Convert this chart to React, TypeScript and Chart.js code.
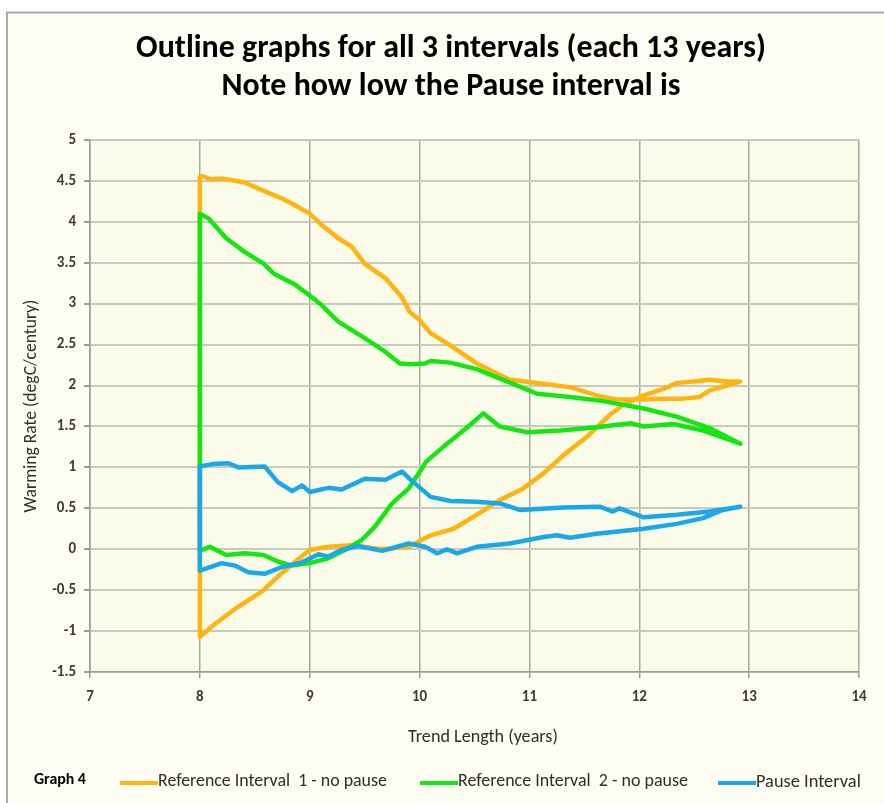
import React, { useEffect, useRef } from "react";
import { Chart, registerables } from "chart.js";

Chart.register(...registerables);

// ---------- DATA ----------
const seriesNames = [
  "Reference Interval  1 - no pause",
  "Reference Interval  2 - no pause",
  "Pause Interval",
];
const seriesColors = ["#FFB412", "#14E614", "#1AA8E8"];

// Reference interval 1 (orange): descending branch
const ref1TopX = [8.0, 8.02, 8.1, 8.2, 8.41, 8.56, 8.74, 8.87, 9.0, 9.11, 9.26, 9.38, 9.5, 9.69, 9.84, 9.91, 10.0, 10.1, 10.28, 10.52, 10.82, 11.07, 11.37, 11.61, 11.79, 12.0, 12.2, 12.4, 12.55, 12.64, 12.8, 12.92];
const ref1TopY = [4.55, 4.56, 4.52, 4.53, 4.48, 4.39, 4.29, 4.2, 4.1, 3.96, 3.8, 3.7, 3.49, 3.31, 3.08, 2.9, 2.8, 2.64, 2.49, 2.27, 2.07, 2.03, 1.98, 1.88, 1.83, 1.83, 1.84, 1.84, 1.86, 1.94, 2.0, 2.05];
// Reference interval 1 (orange): rising branch
const ref1BotX = [8.0, 8.14, 8.32, 8.56, 8.74, 8.87, 9.0, 9.17, 9.38, 9.66, 9.9, 10.1, 10.31, 10.52, 10.73, 10.94, 11.13, 11.31, 11.52, 11.73, 11.85, 12.04, 12.22, 12.34, 12.5, 12.64, 12.8, 12.92];
const ref1BotY = [-1.07, -0.91, -0.73, -0.52, -0.3, -0.15, -0.01, 0.03, 0.05, 0.0, 0.03, 0.17, 0.25, 0.42, 0.6, 0.74, 0.93, 1.15, 1.37, 1.64, 1.76, 1.88, 1.96, 2.03, 2.05, 2.07, 2.05, 2.05];

// Reference interval 2 (green): descending branch
const ref2TopX = [8.0, 8.08, 8.24, 8.41, 8.58, 8.67, 8.87, 9.0, 9.11, 9.26, 9.38, 9.5, 9.69, 9.82, 9.91, 10.05, 10.1, 10.28, 10.52, 10.76, 11.07, 11.37, 11.67, 12.04, 12.34, 12.64, 12.92];
const ref2TopY = [4.1, 4.04, 3.8, 3.63, 3.49, 3.37, 3.23, 3.1, 2.98, 2.78, 2.68, 2.58, 2.41, 2.27, 2.26, 2.27, 2.3, 2.28, 2.2, 2.07, 1.9, 1.86, 1.81, 1.72, 1.62, 1.48, 1.29];
// Reference interval 2 (green): rising branch
const ref2BotX = [8.0, 8.09, 8.24, 8.41, 8.58, 8.71, 8.84, 9.0, 9.17, 9.32, 9.47, 9.59, 9.75, 9.9, 10.06, 10.25, 10.4, 10.58, 10.73, 10.98, 11.28, 11.61, 11.92, 12.04, 12.31, 12.58, 12.92];
const ref2BotY = [-0.02, 0.03, -0.07, -0.05, -0.07, -0.15, -0.2, -0.17, -0.11, -0.01, 0.11, 0.27, 0.56, 0.74, 1.07, 1.29, 1.45, 1.66, 1.5, 1.43, 1.45, 1.49, 1.54, 1.5, 1.53, 1.45, 1.29];

// Pause interval (blue): upper branch
const pauseTopX = [8.0, 8.11, 8.26, 8.35, 8.59, 8.71, 8.84, 8.93, 9.0, 9.17, 9.29, 9.5, 9.69, 9.84, 9.91, 10.1, 10.28, 10.52, 10.73, 10.91, 11.31, 11.64, 11.76, 11.82, 12.04, 12.34, 12.64, 12.92];
const pauseTopY = [1.01, 1.04, 1.05, 1.0, 1.01, 0.82, 0.71, 0.78, 0.7, 0.75, 0.73, 0.86, 0.85, 0.95, 0.86, 0.64, 0.59, 0.58, 0.56, 0.48, 0.51, 0.52, 0.46, 0.5, 0.39, 0.42, 0.46, 0.52];
// Pause interval (blue): lower branch
const pauseBotX = [8.0, 8.2, 8.32, 8.44, 8.59, 8.74, 8.93, 9.08, 9.17, 9.29, 9.44, 9.66, 9.9, 10.05, 10.16, 10.25, 10.34, 10.52, 10.82, 11.13, 11.25, 11.37, 11.61, 12.04, 12.34, 12.58, 12.76, 12.92];
const pauseBotY = [-0.26, -0.17, -0.2, -0.28, -0.3, -0.22, -0.16, -0.06, -0.09, -0.01, 0.04, -0.02, 0.07, 0.03, -0.05, 0.0, -0.05, 0.03, 0.07, 0.15, 0.17, 0.14, 0.19, 0.25, 0.31, 0.38, 0.48, 0.52];

const titleLines = [
  "Outline graphs for all 3 intervals (each 13 years)",
  "Note how low the Pause interval is",
];
const yAxisTitle = "Warming Rate (degC/century)";
const xAxisTitle = "Trend Length (years)";
const legendCaption = "Graph 4";
const xMin = 7, xMax = 14, xStep = 1;
const yMin = -1.5, yMax = 5, yStep = 0.5;

// ---------- helpers ----------
const FAMILY = "Carlito, Lato, 'Liberation Sans', sans-serif";

function loop(topX: number[], topY: number[], botX: number[], botY: number[]) {
  const pts: { x: number; y: number }[] = [];
  for (let i = 0; i < topX.length; i++) pts.push({ x: topX[i], y: topY[i] });
  for (let i = botX.length - 1; i >= 0; i--) pts.push({ x: botX[i], y: botY[i] });
  pts.push({ x: topX[0], y: topY[0] });
  return pts;
}

function fitFont(ctx: CanvasRenderingContext2D, text: string, weight: string, targetW: number) {
  ctx.font = `${weight} 20px ${FAMILY}`;
  const w = ctx.measureText(text).width;
  const size = (20 * targetW) / w;
  ctx.font = `${weight} ${size}px ${FAMILY}`;
  return size;
}

const decorPlugin = {
  id: "decor",
  beforeDraw(chart: any) {
    const { ctx, chartArea: a, width, height } = chart;
    ctx.save();
    ctx.fillStyle = "#FFFFFF";
    ctx.fillRect(0, 0, width, height);
    ctx.fillStyle = "#FDFDF3";
    ctx.fillRect(7, 12, width - 7, height - 12);
    ctx.strokeStyle = "#A9A9A9";
    ctx.lineWidth = 2;
    ctx.beginPath();
    ctx.moveTo(7, height);
    ctx.lineTo(7, 12.5);
    ctx.lineTo(width, 12.5);
    ctx.stroke();
    ctx.fillStyle = "#FBFBE9";
    ctx.fillRect(a.left, a.top, a.right - a.left, a.bottom - a.top);
    ctx.restore();
  },
  afterDraw(chart: any) {
    const { ctx } = chart;
    ctx.save();
    // Title
    ctx.fillStyle = "#000000";
    ctx.textAlign = "center";
    ctx.textBaseline = "alphabetic";
    fitFont(ctx, titleLines[0], "bold", 630);
    ctx.fillText(titleLines[0], 451, 57);
    fitFont(ctx, titleLines[1], "bold", 459);
    ctx.fillText(titleLines[1], 451, 95);

    // Axis titles
    ctx.fillStyle = "#2E2E2E";
    ctx.textBaseline = "middle";
    ctx.save();
    ctx.translate(32, 406);
    ctx.rotate(-Math.PI / 2);
    fitFont(ctx, yAxisTitle, "normal", 213);
    ctx.fillText(yAxisTitle, 0, 0);
    ctx.restore();
    fitFont(ctx, xAxisTitle, "normal", 150);
    ctx.fillText(xAxisTitle, 483, 737);

    // Legend
    const ly = 782;
    ctx.textAlign = "left";
    ctx.fillStyle = "#000000";
    fitFont(ctx, legendCaption, "bold", 52);
    ctx.fillText(legendCaption, 34, ly - 2);
    const lineX = [120, 420, 718];
    const textW = [229, 230, 105];
    ctx.lineWidth = 4;
    for (let i = 0; i < 3; i++) {
      ctx.strokeStyle = seriesColors[i];
      ctx.beginPath();
      ctx.moveTo(lineX[i], ly + 1);
      ctx.lineTo(lineX[i] + 38, ly + 1);
      ctx.stroke();
      ctx.fillStyle = "#2E2E2E";
      fitFont(ctx, seriesNames[i], "normal", textW[i]);
      ctx.fillText(seriesNames[i], lineX[i] + 38, ly);
    }
    ctx.restore();
  },
};

export default function App() {
  const ref = useRef<HTMLCanvasElement | null>(null);
  useEffect(() => {
    if (!ref.current) return;
    const loops = [
      loop(ref1TopX, ref1TopY, ref1BotX, ref1BotY),
      loop(ref2TopX, ref2TopY, ref2BotX, ref2BotY),
      loop(pauseTopX, pauseTopY, pauseBotX, pauseBotY),
    ];
    const chart = new Chart(ref.current, {
      type: "scatter",
      data: {
        datasets: loops.map((pts, i) => ({
          label: seriesNames[i],
          data: pts,
          showLine: true,
          borderColor: seriesColors[i],
          backgroundColor: seriesColors[i],
          borderWidth: 4.5,
          pointRadius: 0,
          pointHoverRadius: 0,
          tension: 0,
          borderJoinStyle: "round" as const,
          borderCapStyle: "round" as const,
          order: 3 - i,
        })),
      },
      options: {
        animation: false,
        responsive: false,
        layout: { padding: { left: 0, top: 140, right: 25, bottom: 0 } },
        plugins: {
          legend: { display: false },
          title: { display: false },
          tooltip: { enabled: false },
        },
        scales: {
          x: {
            type: "linear",
            min: xMin,
            max: xMax,
            ticks: {
              stepSize: xStep,
              padding: 10,
              color: "#3A3A3A",
              font: { family: FAMILY, size: 15, weight: "bold" },
            },
            grid: { color: "#A8A8A2", lineWidth: 1.5, tickLength: 6, tickColor: "#9A9A9A" },
            border: { color: "#9C9C9C", width: 1.5 },
            afterFit: (s: any) => { s.height = 131; },
          },
          y: {
            type: "linear",
            min: yMin,
            max: yMax,
            ticks: {
              stepSize: yStep,
              padding: 8,
              color: "#3A3A3A",
              font: { family: FAMILY, size: 15, weight: "bold" },
              callback: (v: any) => String(Number(v)),
            },
            grid: { color: "#C9C9C0", lineWidth: 2, tickLength: 6, tickColor: "#9A9A9A" },
            border: { color: "#9C9C9C", width: 1.5 },
            afterFit: (s: any) => { s.width = 90; },
          },
        },
      },
      plugins: [decorPlugin],
    });
    return () => chart.destroy();
  }, []);
  return (
    <div style={{ position: "fixed", left: 0, top: 0, width: 884, height: 803 }}>
      <canvas ref={ref} width={884} height={803} style={{ width: 884, height: 803, display: "block" }} />
    </div>
  );
}
